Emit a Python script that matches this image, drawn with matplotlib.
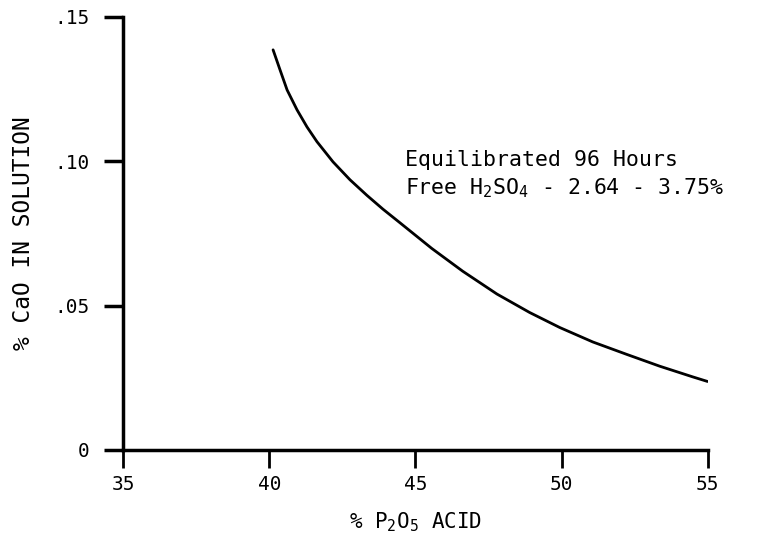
import matplotlib
matplotlib.use("Agg")
import matplotlib.pyplot as plt

# Data
p2o5 = [40.13, 40.37, 40.61, 40.95, 41.29, 41.63, 42.18, 42.76, 43.34, 43.89, 44.47,
        45.56, 46.62, 47.79, 48.91, 49.94, 51.07, 52.23, 53.36, 54.49, 55.0]
cao = [0.1386, 0.1316, 0.1247, 0.1178, 0.1119, 0.1068, 0.0998, 0.0936, 0.0882, 0.0834, 0.0787,
       0.0698, 0.0619, 0.0540, 0.0476, 0.0424, 0.0374, 0.0331, 0.0290, 0.0253, 0.0237]

x_ticks = [35, 40, 45, 50, 55]
y_ticks = [0, 0.05, 0.10, 0.15]
y_tick_labels = ["0", ".05", ".10", ".15"]

note_lines = ["Equilibrated 96 Hours", r"Free H$\mathregular{_2}$SO$\mathregular{_4}$ - 2.64 - 3.75%"]

plt.rcParams['font.family'] = ['DejaVu Sans Mono']

fig = plt.figure(figsize=(7.65, 5.46), dpi=100)
ax = fig.add_axes([0.161, 0.176, 0.764, 0.793])

ax.plot(p2o5, cao, color="black", lw=2.0, solid_capstyle="round", solid_joinstyle="round")

ax.set_xlim(35, 55)
ax.set_ylim(0, 0.15)
ax.set_xticks(x_ticks)
ax.set_xticklabels([str(v) for v in x_ticks])
ax.set_yticks(y_ticks)
ax.set_yticklabels(y_tick_labels)

for s in ["top", "right"]:
    ax.spines[s].set_visible(False)
for s in ["left", "bottom"]:
    ax.spines[s].set_linewidth(2.5)

ax.tick_params(axis="x", direction="out", length=13, width=2, labelsize=14, pad=5)
ax.tick_params(axis="y", direction="out", length=14, width=2.5, labelsize=14, pad=10)

ax.set_xlabel(r"% P$\mathregular{_2}$O$\mathregular{_5}$ ACID", fontsize=15, labelpad=12)
ax.set_ylabel("% CaO IN SOLUTION", fontsize=16.5, labelpad=14)

ax.text(0.482, 0.670, note_lines[0], transform=ax.transAxes, fontsize=15.5, va="center", ha="left")
ax.text(0.482, 0.605, note_lines[1], transform=ax.transAxes, fontsize=15.5, va="center", ha="left")

fig.savefig("out.png", dpi=100, facecolor="white")
